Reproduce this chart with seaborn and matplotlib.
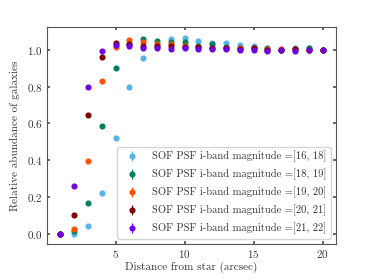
import matplotlib
matplotlib.use("Agg")
import matplotlib.pyplot as plt
import seaborn as sns
import numpy as np

# distance from star (arcsec)
distance = list(range(1, 21))

labels = ["[16, 18]", "[18, 19]", "[19, 20]", "[20, 21]", "[21, 22]"]
colors = ["#56B4E9", "#00805F", "#FF5000", "#7F0000", "#7000E0"]

mag_16_18 = [0.0, 0.002, 0.043, 0.224, 0.524, 0.798, 0.955, 1.02, 1.058, 1.061,
             1.046, 1.034, 1.036, 1.025, 1.02, 1.005, 1.0, 1.007, 1.007, 1.0]
mag_18_19 = [0.0, 0.015, 0.168, 0.589, 0.901, 1.03, 1.06, 1.049, 1.04, 1.04,
             1.02, 1.029, 1.015, 1.012, 1.01, 1.007, 1.0, 1.005, 1.007, 1.0]
mag_19_20 = [0.0, 0.03, 0.398, 0.832, 1.013, 1.051, 1.043, 1.03, 1.03, 1.022,
             1.015, 1.01, 1.011, 1.01, 1.008, 1.003, 1.002, 1.003, 1.0, 1.0]
mag_20_21 = [0.0, 0.106, 0.647, 0.959, 1.035, 1.029, 1.02, 1.018, 1.02, 1.015,
             1.016, 1.008, 1.008, 1.005, 1.009, 1.0, 1.0, 1.002, 0.998, 1.0]
mag_21_22 = [0.0, 0.26, 0.798, 0.991, 1.025, 1.02, 1.011, 1.011, 1.006, 1.008,
             1.005, 1.002, 1.004, 0.998, 0.997, 0.995, 0.997, 0.992, 1.0, 0.997]
errors = [0.01, 0.008, 0.006, 0.006, 0.005]

series = [mag_16_18, mag_18_19, mag_19_20, mag_20_21, mag_21_22]

sns.set_theme(style="ticks", rc={
    "xtick.direction": "in", "ytick.direction": "in",
    "xtick.top": True, "ytick.right": True,
    "xtick.major.size": 2.5, "ytick.major.size": 2.5,
    "axes.edgecolor": "#555555", "axes.linewidth": 0.8,
    "text.color": "#333333", "axes.labelcolor": "#333333",
    "xtick.color": "#555555", "ytick.color": "#555555",
    "xtick.labelcolor": "#333333", "ytick.labelcolor": "#333333",
})
plt.rcParams["font.family"] = ["cmr10", "DejaVu Serif"]
plt.rcParams["mathtext.fontset"] = "cm"
plt.rcParams["axes.formatter.use_mathtext"] = True
plt.rcParams["font.size"] = 8

fig = plt.figure(figsize=(3.74, 2.8), dpi=100)
ax = fig.add_axes([0.126, 0.129, 0.772, 0.775])

for vals, lab, col, err in zip(series, labels, colors, errors):
    ax.errorbar(distance, vals, yerr=err, fmt="o", ms=3.4, color=col,
                elinewidth=0.8, label="SOF PSF i-band magnitude =" + lab)

ax.set_xlabel("Distance from star (arcsec)", fontsize=8, labelpad=1)
ax.set_ylabel("Relative abundance of galaxies", fontsize=8, labelpad=5)
ax.set_ylim(-0.053, 1.124)
ax.set_xticks([5, 10, 15, 20])
ax.set_yticks([0.0, 0.2, 0.4, 0.6, 0.8, 1.0])
ax.tick_params(labelsize=8, pad=3)
ax.legend(loc="lower right", fontsize=7.6, handletextpad=0.9,
          labelspacing=0.62)

fig.savefig("out.png", dpi=100)
